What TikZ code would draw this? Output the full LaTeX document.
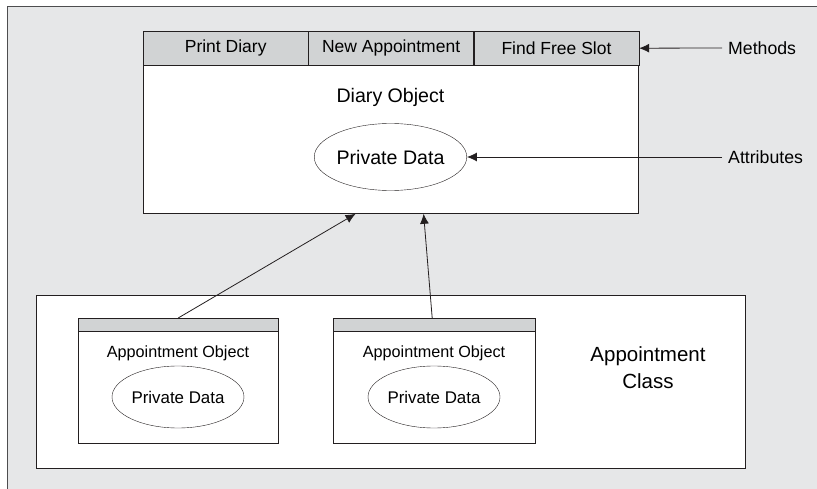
\documentclass[tikz,border=0pt]{standalone}
\usepackage{fontspec}
\setmainfont{Liberation Sans}
\usepackage{tikz}
\usetikzlibrary{shapes.geometric,arrows.meta,positioning}

\definecolor{bggray}{HTML}{E6E7E8}
\definecolor{hdrgray}{HTML}{D1D3D4}
\definecolor{linecol}{HTML}{231F20}
\definecolor{conncol}{HTML}{4D4D4F}

\begin{document}
\begin{tikzpicture}[
    x=1pt, y=-1pt,
    node distance=0pt,
    method/.style={rectangle, draw=linecol, fill=hdrgray, minimum width=165pt, minimum height=34pt, inner sep=0pt, font=\fontsize{17.5}{20}\selectfont},
    body/.style={rectangle, draw=linecol, fill=white, inner sep=0pt},
    bar/.style={rectangle, draw=linecol, fill=hdrgray, minimum width=200pt, minimum height=13pt, inner sep=0pt},
    blob/.style={ellipse, draw=linecol, fill=white, inner sep=0pt},
    label/.style={font=\fontsize{17.7}{20}\selectfont, anchor=west, inner sep=6pt},
    arrow/.style={-{Latex[length=10pt,width=9pt]}, draw=linecol, line width=0.8pt}
]
\useasboundingbox (0,0) rectangle (817,489);

% backdrop
\fill[bggray] (7,7) rectangle (817,489);
\draw[conncol, line width=1pt] (7,489) -- (7,7) -- (817,7);

% diary object with its three methods
\node[method, anchor=north west] (print) at (143,31) {Print Diary};
\node[method, right=of print] (newapp) {New Appointment};
\node[method, right=of newapp] (find) {Find Free Slot};
\node[body, minimum width=495pt, minimum height=148pt, below=of newapp] (diary) {};
\node[font=\fontsize{19.6}{22}\selectfont] (diarytxt) at (390.5,97) {Diary Object};
\node[blob, minimum width=149pt, minimum height=67pt, font=\fontsize{19.6}{22}\selectfont] (diarydata) at (390.5,157) {Private Data};

% callouts on the right
\node[label] (methods) at (722,48) {Methods};
\node[label] (attrs) at (722,157) {Attributes};
\draw[arrow] (methods.west) -- (find.east);
\draw[arrow] (attrs.west) -- (diarydata.east);

% appointment class
\node[body, anchor=north west, minimum width=709pt, minimum height=173pt] (appclass) at (36,295) {};
\node[align=center, font=\fontsize{20.5}{27}\selectfont] (classtxt) at (648,368) {Appointment\\Class};

\node[bar, anchor=north west] (bar1) at (78,318) {};
\node[body, minimum width=200pt, minimum height=112pt, below=of bar1] (app1) {};
\node[font=\fontsize{16.2}{19}\selectfont] (app1txt) at (178,353) {Appointment Object};
\node[blob, minimum width=132pt, minimum height=62pt, font=\fontsize{16.9}{19}\selectfont] (app1data) at (178,397) {Private Data};

\node[bar, anchor=north west, minimum width=202pt] (bar2) at (333,318) {};
\node[body, minimum width=202pt, minimum height=112pt, below=of bar2] (app2) {};
\node[font=\fontsize{16.2}{19}\selectfont] (app2txt) at (434,353) {Appointment Object};
\node[blob, minimum width=132pt, minimum height=62pt, font=\fontsize{16.9}{19}\selectfont] (app2data) at (434,397) {Private Data};

% links up to the diary
\draw[arrow] (bar1.north) -- ([xshift=-35.5pt]diary.south);
\draw[arrow] ([xshift=-2pt]bar2.north) -- ([xshift=32.5pt]diary.south);

\end{tikzpicture}
\end{document}
